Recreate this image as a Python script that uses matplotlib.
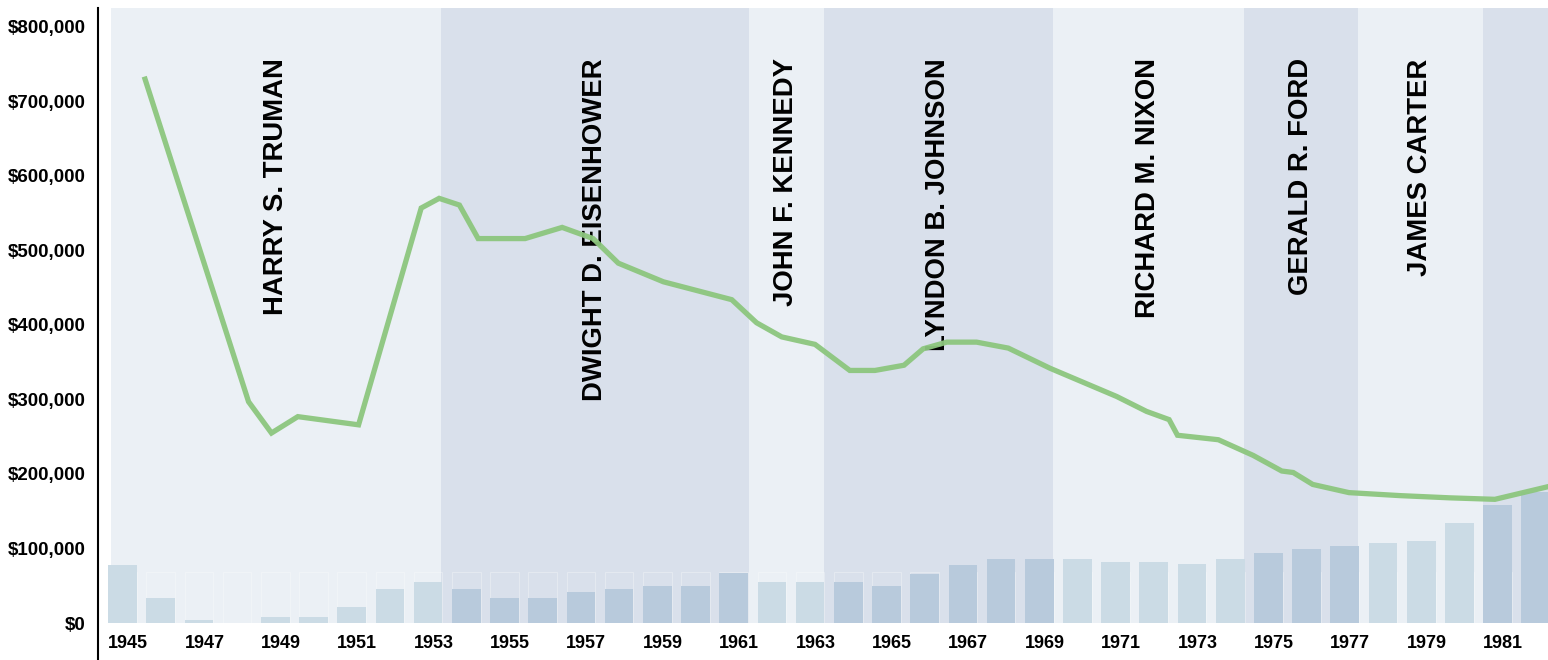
# presidents.py - annual amounts (bars) and a running value (line) by presidency
import matplotlib
matplotlib.use('Agg')
import matplotlib.pyplot as plt
from matplotlib.lines import Line2D
from matplotlib.ticker import FuncFormatter

# Bar data, one per year
bar_years = list(range(1945, 1983))
bar_values = [78000, 33500, 3600, 0, 7500, 7500, 21500, 45600, 55400, 45600,
              33500, 33500, 41600, 45600, 49600, 49600, 67500, 55400, 55400, 55400,
              49600, 65800, 78000, 85500, 85500, 85500, 81500, 81500, 79300, 85500,
              93500, 99300, 103400, 107000, 110000, 133800, 158400, 176000]

# Line data (fractional years)
line_x = [1945.59, 1948.30, 1948.90, 1949.59, 1951.18, 1952.82, 1953.29, 1953.82,
          1954.31, 1955.54, 1956.51, 1957.32, 1957.98, 1959.16, 1960.95, 1961.60,
          1962.26, 1963.13, 1964.04, 1964.70, 1965.46, 1965.96, 1966.58, 1967.36,
          1968.19, 1969.28, 1971.03, 1971.81, 1972.40, 1972.62, 1973.69, 1974.60,
          1975.35, 1975.65, 1976.16, 1977.11, 1978.44, 1979.75, 1980.93, 1982.32]
line_y = [730000, 297000, 255000, 277000, 266000, 557000, 570000, 561000,
          516000, 516000, 531000, 516000, 483000, 458000, 434000, 403000,
          384000, 374000, 339000, 339000, 346000, 368000, 377000, 377000,
          369000, 342000, 304000, 284000, 273000, 252000, 246000, 225000,
          204000, 202000, 186000, 175000, 171000, 168000, 166000, 183000]

# Presidential terms (start, end) on the year axis
presidents = ['HARRY S. TRUMAN', 'DWIGHT D. EISENHOWER', 'JOHN F. KENNEDY',
              'LYNDON B. JOHNSON', 'RICHARD M. NIXON', 'GERALD R. FORD',
              'JAMES CARTER', '']
term_edges = [1944.70, 1953.34, 1961.40, 1963.36, 1969.36, 1974.36, 1977.34,
              1980.62, 1982.40]

tick_years = list(range(1945, 1983, 2))

light_band, dark_band = '#ebf0f5', '#d9e0eb'
light_bar, dark_bar = '#cbdbe5', '#b8cadc'

plt.rcParams['font.family'] = ['Liberation Sans', 'DejaVu Sans']

fig = plt.figure(figsize=(15.48, 6.6), dpi=100)
ax = fig.add_axes([108 / 1548, 1 - 623 / 660, 1 - 108 / 1548, 615 / 660])

# background bands and president names
for i, name in enumerate(presidents):
    lo, hi = term_edges[i], term_edges[i + 1]
    ax.axvspan(lo, hi, color=light_band if i % 2 == 0 else dark_band, lw=0, zorder=0)
    if name:
        ax.text((lo + hi) / 2, 758000, name, rotation=90, ha='center', va='top',
                fontsize=19.8, fontweight='bold', color='black', zorder=3)

# faint ghost bars
ax.bar(bar_years, [68000] * len(bar_years), width=0.75, facecolor='none',
       edgecolor=(1, 1, 1, 0.35), lw=0.6, zorder=1)

# bars coloured by the band they sit in
colors = []
for yr in bar_years:
    k = max(i for i in range(len(presidents)) if term_edges[i] <= yr)
    colors.append(light_bar if k % 2 == 0 else dark_bar)
ax.bar(bar_years, bar_values, width=0.75, color=colors, lw=0, zorder=2)

ax.plot(line_x, line_y, color='#8cc67e', lw=3.8, solid_joinstyle='miter',
        alpha=0.95, zorder=4)

ax.set_xlim(1944.62, 1982.32)
ax.set_ylim(0, 825500)
ax.set_yticks(range(0, 800001, 100000))
ax.yaxis.set_major_formatter(FuncFormatter(lambda v, p: '${:,.0f}'.format(v)))
ax.set_xticks([y - 0.38 for y in tick_years])
ax.set_xticklabels([str(y) for y in tick_years], ha='left')
ax.tick_params(axis='y', length=0, pad=16, labelsize=13.5)
ax.tick_params(axis='x', length=0, pad=9, labelsize=13)
for lbl in ax.get_xticklabels() + ax.get_yticklabels():
    lbl.set_fontweight('bold')
for s in ax.spines.values():
    s.set_visible(False)

fig.add_artist(Line2D([98 / 1548, 98 / 1548], [0, 1 - 8 / 660], color='black', lw=1.5))

fig.savefig('out.png', dpi=100)
